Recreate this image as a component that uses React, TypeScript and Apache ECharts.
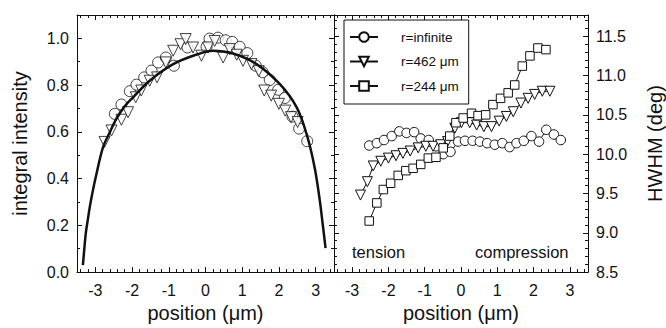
import React, { useEffect, useRef } from "react";
import * as echarts from "echarts";

// ---- data ----
const fitX = [-3.34, -3.3, -3.26, -3.2, -3.15, -3.06, -2.97, -2.79, -2.6, -2.43, -2.2, -1.97, -1.52, -0.88, -0.16, 0.2, 0.75, 1.39, 2.02, 2.48, 2.75, 2.97, 3.11, 3.2, 3.27];
const fitY = [0.03, 0.1, 0.167, 0.23, 0.28, 0.355, 0.42, 0.535, 0.6, 0.656, 0.71, 0.748, 0.819, 0.89, 0.935, 0.947, 0.935, 0.89, 0.805, 0.706, 0.592, 0.45, 0.31, 0.195, 0.103];

const intCircleX = [-2.47, -2.29, -2.06, -1.88, -1.67, -1.47, -1.29, -1.08, -0.86, -0.49, 0.03, 0.11, 0.34, 0.55, 0.73, 0.93, 1.14, 1.37, 1.56, 1.75, 1.98, 2.16, 2.37, 2.55, 2.77];
const intCircleY = [0.677, 0.717, 0.774, 0.802, 0.833, 0.862, 0.897, 0.918, 0.883, 0.961, 0.964, 0.999, 1.003, 0.992, 0.985, 0.964, 0.937, 0.883, 0.855, 0.822, 0.78, 0.745, 0.665, 0.614, 0.56];

const intTriX = [-2.75, -2.56, -2.29, -2.11, -1.9, -1.75, -1.52, -1.32, -1.08, -0.88, -0.68, -0.54, -0.34, -0.11, 0.07, 0.25, 0.48, 0.66, 0.85, 1.02, 1.25, 1.45, 1.6, 1.79, 2.0, 2.17, 2.33, 2.51];
const intTriY = [0.557, 0.606, 0.652, 0.684, 0.748, 0.777, 0.819, 0.833, 0.897, 0.947, 0.975, 0.997, 0.961, 0.926, 0.961, 0.989, 0.918, 0.954, 0.93, 0.904, 0.89, 0.86, 0.777, 0.755, 0.72, 0.691, 0.663, 0.642];

const hwInfX = [-2.53, -2.32, -2.12, -1.91, -1.7, -1.5, -1.29, -1.11, -0.89, -0.69, -0.49, -0.29, -0.08, 0.11, 0.32, 0.52, 0.72, 0.93, 1.14, 1.34, 1.53, 1.73, 1.94, 2.15, 2.35, 2.56, 2.75];
const hwInfY = [10.11, 10.14, 10.18, 10.23, 10.29, 10.27, 10.28, 10.2, 10.18, 10.1, 10.0, 10.03, 10.16, 10.17, 10.17, 10.16, 10.14, 10.12, 10.14, 10.09, 10.14, 10.17, 10.23, 10.16, 10.31, 10.25, 10.18];

const hw462X = [-2.77, -2.58, -2.42, -2.21, -2.0, -1.79, -1.6, -1.4, -1.18, -0.97, -0.77, -0.56, -0.37, -0.17, 0.01, 0.24, 0.43, 0.63, 0.84, 1.05, 1.25, 1.44, 1.65, 1.85, 2.03, 2.24, 2.45];
const hw462Y = [9.48, 9.65, 9.85, 9.91, 9.95, 9.98, 10.01, 10.04, 10.08, 10.1, 10.1, 10.12, 10.16, 10.33, 10.4, 10.4, 10.37, 10.35, 10.35, 10.42, 10.48, 10.54, 10.65, 10.71, 10.76, 10.8, 10.8];

const hw244X = [-2.53, -2.32, -2.14, -1.94, -1.73, -1.52, -1.32, -1.11, -0.9, -0.69, -0.49, -0.31, -0.14, 0.06, 0.29, 0.47, 0.68, 0.88, 1.09, 1.3, 1.48, 1.69, 1.9, 2.12, 2.34];
const hw244Y = [9.15, 9.38, 9.55, 9.63, 9.73, 9.79, 9.82, 9.87, 9.95, 9.96, 10.08, 10.23, 10.4, 10.46, 10.52, 10.49, 10.5, 10.63, 10.71, 10.78, 10.88, 11.12, 11.25, 11.35, 11.33];

const legendNames = ["r=infinite", "r=462 μm", "r=244 μm"];
const xTitle = "position (μm)";
const leftYTitle = "integral intensity";
const rightYTitle = "HWHM (deg)";
const annotations = ["tension", "compression"];

const zip = (xs: number[], ys: number[]) => xs.map((x, i) => [x, ys[i]]);

const FONT = "'Liberation Sans', Arial, Helvetica, sans-serif";
const INK = "#111";

export default function App() {
  const ref = useRef<HTMLDivElement>(null);
  useEffect(() => {
    if (!ref.current) return;
    const chart = echarts.init(ref.current, undefined, { renderer: "svg" });

    const lineStyle = { color: INK, width: 1 };
    const tick = { show: true, inside: true, length: 5, lineStyle };
    const xBase = (grid: number, pos: "bottom" | "top", labels: boolean) => ({
      type: "value",
      gridIndex: grid,
      position: pos,
      min: -3.5,
      max: 3.5,
      splitNumber: 7,
      axisLine: { show: true, onZero: false, lineStyle },
      axisTick: tick,
      minorTick: { show: true, splitNumber: 5, length: 3, lineStyle },
      splitLine: { show: false },
      axisLabel: {
        show: labels,
        showMinLabel: false,
        showMaxLabel: false,
        fontFamily: FONT,
        fontSize: 16,
        color: INK,
        margin: 10,
        formatter: (v: number) => String(Math.round(v)),
      },
      name: labels ? xTitle : "",
      nameLocation: "middle",
      nameGap: 30,
      nameTextStyle: { fontFamily: FONT, fontSize: 20, color: INK },
    });

    const option: any = {
      animation: false,
      grid: [
        { left: 77, top: 15, width: 257, height: 257.5 },
        { left: 334, top: 15, width: 254, height: 257.5 },
      ],
      xAxis: [xBase(0, "bottom", true), xBase(0, "top", false), xBase(1, "bottom", true), xBase(1, "top", false)],
      yAxis: [
        {
          type: "value",
          gridIndex: 0,
          position: "left",
          min: 0,
          max: 1.1,
          interval: 0.2,
          axisLine: { show: true, onZero: false, lineStyle },
          axisTick: tick,
          minorTick: { show: true, splitNumber: 2, length: 3, lineStyle },
          splitLine: { show: false },
          axisLabel: {
            showMaxLabel: false,
            fontFamily: FONT,
            fontSize: 16,
            color: INK,
            margin: 8,
            formatter: (v: number) => v.toFixed(1),
          },
          name: leftYTitle,
          nameLocation: "middle",
          nameGap: 47,
          nameRotate: 90,
          nameTextStyle: { fontFamily: FONT, fontSize: 20, color: INK },
        },
        {
          type: "value",
          gridIndex: 0,
          position: "right",
          min: 0,
          max: 1.1,
          interval: 0.2,
          axisLine: { show: true, onZero: false, lineStyle },
          axisTick: tick,
          minorTick: { show: true, splitNumber: 2, length: 3, lineStyle },
          splitLine: { show: false },
          axisLabel: { show: false },
        },
        {
          type: "value",
          gridIndex: 1,
          position: "right",
          min: 8.5,
          max: 11.77,
          interval: 0.5,
          axisLine: { show: true, onZero: false, lineStyle },
          axisTick: tick,
          minorTick: { show: true, splitNumber: 5, length: 3, lineStyle },
          splitLine: { show: false },
          axisLabel: {
            showMaxLabel: false,
            fontFamily: FONT,
            fontSize: 16,
            color: INK,
            margin: 8,
            formatter: (v: number) => v.toFixed(1),
          },
          name: rightYTitle,
          nameLocation: "middle",
          nameGap: 57,
          nameRotate: 90,
          nameTextStyle: { fontFamily: FONT, fontSize: 20, color: INK },
        },
        {
          type: "value",
          gridIndex: 1,
          position: "left",
          min: 8.5,
          max: 11.77,
          interval: 0.5,
          axisLine: { show: true, onZero: false, lineStyle },
          axisTick: tick,
          minorTick: { show: true, splitNumber: 5, length: 3, lineStyle },
          splitLine: { show: false },
          axisLabel: { show: false },
        },
      ],
      legend: {
        data: legendNames,
        orient: "vertical",
        left: 344,
        top: 20,
        itemWidth: 28,
        itemHeight: 12,
        itemGap: 10.5,
        padding: [10, 10, 11, 5],
        borderColor: INK,
        borderWidth: 1,
        borderRadius: 0,
        backgroundColor: "#fff",
        selectedMode: false,
        textStyle: { fontFamily: FONT, fontSize: 13.5, color: INK, padding: [0, 0, 0, 18] },
      },
      graphic: [
        {
          type: "text",
          left: 352,
          top: 243,
          style: { text: annotations[0], fontFamily: FONT, fontSize: 16.5, fill: INK },
        },
        {
          type: "text",
          left: 475,
          top: 243,
          style: { text: annotations[1], fontFamily: FONT, fontSize: 16.5, fill: INK },
        },
      ],
      series: [
        {
          name: "intensity circles",
          type: "scatter",
          xAxisIndex: 0,
          yAxisIndex: 0,
          symbol: "circle",
          symbolSize: 11,
          itemStyle: { color: "#fff", borderColor: INK, borderWidth: 1 },
          data: zip(intCircleX, intCircleY),
          z: 2,
        },
        {
          name: "intensity triangles",
          type: "scatter",
          xAxisIndex: 0,
          yAxisIndex: 0,
          symbol: "triangle",
          symbolRotate: 180,
          symbolSize: 11,
          itemStyle: { color: "#fff", borderColor: INK, borderWidth: 1 },
          data: zip(intTriX, intTriY),
          z: 2,
        },
        {
          name: "fit",
          type: "line",
          xAxisIndex: 0,
          yAxisIndex: 0,
          symbol: "none",
          smooth: 0.35,
          lineStyle: { color: INK, width: 2.5 },
          data: zip(fitX, fitY),
          z: 3,
        },
        {
          name: legendNames[0],
          type: "line",
          xAxisIndex: 2,
          yAxisIndex: 2,
          symbol: "circle",
          symbolSize: 9.5,
          showAllSymbol: true,
          lineStyle: { color: INK, width: 1 },
          itemStyle: { color: "#fff", borderColor: INK, borderWidth: 1 },
          data: zip(hwInfX, hwInfY),
        },
        {
          name: legendNames[1],
          type: "line",
          xAxisIndex: 2,
          yAxisIndex: 2,
          symbol: "triangle",
          symbolRotate: 180,
          symbolSize: 10,
          showAllSymbol: true,
          lineStyle: { color: INK, width: 1 },
          itemStyle: { color: "#fff", borderColor: INK, borderWidth: 1 },
          data: zip(hw462X, hw462Y),
        },
        {
          name: legendNames[2],
          type: "line",
          xAxisIndex: 2,
          yAxisIndex: 2,
          symbol: "rect",
          symbolSize: 8.5,
          showAllSymbol: true,
          lineStyle: { color: INK, width: 1 },
          itemStyle: { color: "#fff", borderColor: INK, borderWidth: 1 },
          data: zip(hw244X, hw244Y),
        },
      ],
    };
    chart.setOption(option);
    return () => chart.dispose();
  }, []);

  return (
    <div
      ref={ref}
      style={{ position: "absolute", left: 0, top: 0, width: 666, height: 328, background: "#fff" }}
    />
  );
}
